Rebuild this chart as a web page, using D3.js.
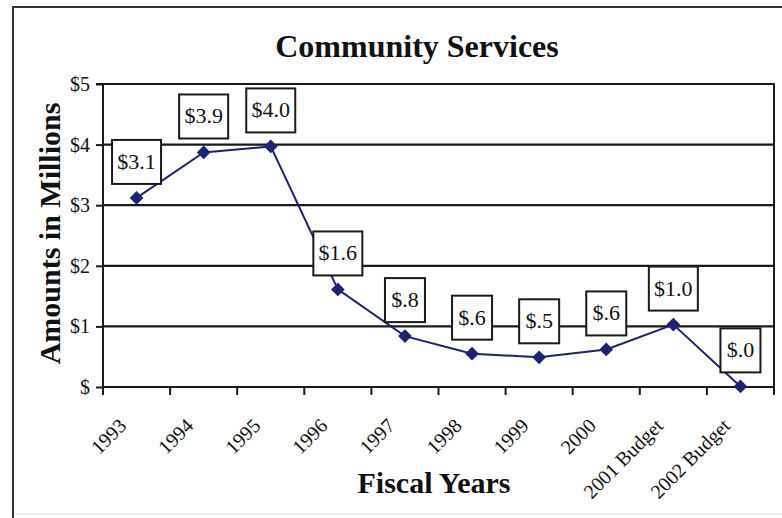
<!DOCTYPE html>
<html>
<head>
<meta charset="utf-8">
<script src="https://cdn.jsdelivr.net/npm/d3@7"></script>
<style>
  html, body { margin: 0; padding: 0; background: #fff; }
  svg { display: block; }
  text { font-family: "Liberation Serif", "Times New Roman", serif; fill: #111; }
</style>
</head>
<body>
<svg id="chart" width="782" height="518"></svg>
<script>
// Community Services spending by fiscal year, in millions of dollars
const years = ["1993", "1994", "1995", "1996", "1997", "1998", "1999", "2000", "2001 Budget", "2002 Budget"];
const amounts = [3.12, 3.87, 3.97, 1.61, 0.84, 0.55, 0.49, 0.62, 1.03, 0.01];
const yTicks = [0, 1, 2, 3, 4, 5];

const W = 782, H = 518;
const plot = { left: 103, right: 774, top: 84, bottom: 387 };
const lineColor = "#1c2470";

const svg = d3.select("#chart");

// outer frame
svg.append("line")
  .attr("x1", 13).attr("x2", W + 2).attr("y1", 514).attr("y2", 514)
  .attr("stroke", "#ececec").attr("stroke-width", 2);
svg.append("path")
  .attr("d", `M13,${H + 2} L13,7 L${W + 2},7`)
  .attr("fill", "none").attr("stroke", "#333").attr("stroke-width", 2);

const x = d3.scaleBand().domain(years).range([plot.left, plot.right]).padding(0);
const y = d3.scaleLinear().domain([0, 5]).range([plot.bottom, plot.top]);

// horizontal gridlines
svg.append("g").selectAll("line").data(yTicks).join("line")
  .attr("x1", plot.left).attr("x2", plot.right)
  .attr("y1", d => y(d)).attr("y2", d => y(d))
  .attr("stroke", "#1a1a1a").attr("stroke-width", 2.2);

// right border of plot area
svg.append("line")
  .attr("x1", plot.right).attr("x2", plot.right)
  .attr("y1", plot.top - 1).attr("y2", plot.bottom + 8)
  .attr("stroke", "#1a1a1a").attr("stroke-width", 2);

// y axis
const yAxis = d3.axisLeft(y).tickValues(yTicks).tickSize(7).tickPadding(6)
  .tickFormat(d => d === 0 ? "$" : "$" + d);
const gy = svg.append("g").attr("transform", `translate(${plot.left},0)`).call(yAxis);
gy.select(".domain").attr("stroke", "#1a1a1a").attr("stroke-width", 2)
  .attr("d", `M-7,${plot.top}H0V${plot.bottom + 8}`);
gy.selectAll(".tick line").attr("stroke", "#1a1a1a").attr("stroke-width", 2);
gy.selectAll(".tick text").attr("font-size", 20).attr("fill", "#111")
  .style("font-family", "'Liberation Serif', serif");

// x axis: ticks at category boundaries
const bounds = years.map(d => x(d)).concat([plot.right]);
svg.append("g").selectAll("line").data(bounds).join("line")
  .attr("x1", d => d).attr("x2", d => d)
  .attr("y1", plot.bottom).attr("y2", plot.bottom + 8)
  .attr("stroke", "#1a1a1a").attr("stroke-width", 2);

// rotated category labels
svg.append("g").selectAll("text").data(years).join("text")
  .attr("transform", d => `translate(${x(d) + x.bandwidth() / 2 - 9},${plot.bottom + 40}) rotate(-45)`)
  .attr("text-anchor", "end")
  .attr("font-size", 20)
  .text(d => d);

// series line
const cx = d => x(d) + x.bandwidth() / 2;
const line = d3.line().x((d, i) => cx(years[i])).y(d => y(d));
svg.append("path").datum(amounts)
  .attr("d", line)
  .attr("fill", "none").attr("stroke", lineColor).attr("stroke-width", 2);

// diamond markers
const diamond = d3.symbol().type(d3.symbolDiamond2).size(120);
svg.append("g").selectAll("path").data(amounts).join("path")
  .attr("transform", (d, i) => `translate(${cx(years[i])},${y(d)})`)
  .attr("d", diamond)
  .attr("fill", lineColor);

// value labels in boxes above each point
const fmt = v => "$" + d3.format(".1f")(v).replace(/^0/, "");
const labels = svg.append("g").selectAll("g").data(amounts).join("g")
  .attr("transform", (d, i) => `translate(${cx(years[i])},${y(d) - 36})`);
labels.each(function(d) {
  const g = d3.select(this);
  const t = fmt(d);
  const w = t.length > 3 ? 49 : 40;
  g.append("rect")
    .attr("x", -w / 2).attr("y", -22).attr("width", w).attr("height", 44)
    .attr("fill", "#fff").attr("stroke", "#1a1a1a").attr("stroke-width", 2);
  g.append("text")
    .attr("text-anchor", "middle").attr("y", 7)
    .attr("font-size", 22)
    .text(t);
});

// title and axis titles
svg.append("text")
  .attr("x", 417).attr("y", 57)
  .attr("text-anchor", "middle")
  .attr("font-size", 32).attr("font-weight", "bold")
  .text("Community Services");

svg.append("text")
  .attr("transform", `translate(60,${(plot.top + plot.bottom) / 2 - 2}) rotate(-90)`)
  .attr("text-anchor", "middle")
  .attr("font-size", 30).attr("font-weight", "bold")
  .text("Amounts in Millions");

svg.append("text")
  .attr("x", 434).attr("y", 493)
  .attr("text-anchor", "middle")
  .attr("font-size", 30).attr("font-weight", "bold")
  .text("Fiscal Years");
</script>
</body>
</html>
